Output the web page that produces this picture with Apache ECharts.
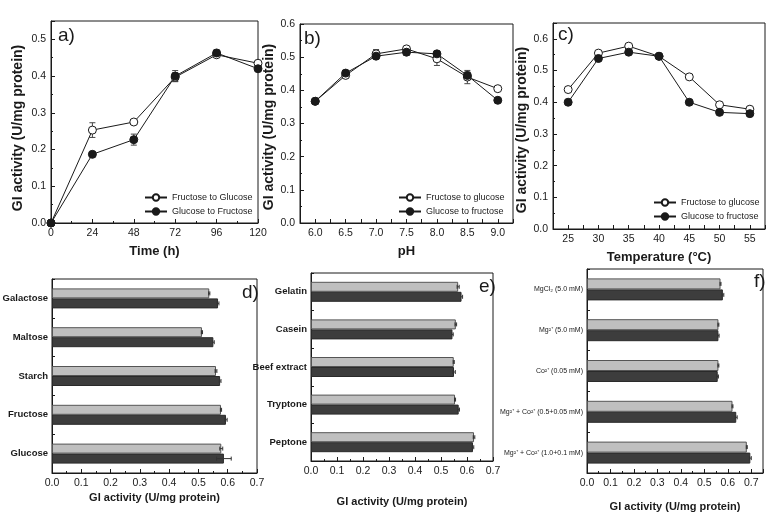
<!DOCTYPE html>
<html>
<head>
<meta charset="utf-8">
<script src="https://cdn.jsdelivr.net/npm/echarts@6/dist/echarts.min.js"></script>
<style>
  html, body { margin: 0; padding: 0; background: #fff; }
  #chart { width: 778px; height: 527px; }
</style>
</head>
<body>
<div id="chart"></div>
<script>
// a) time course
var timeX = [0, 24, 48, 72, 96, 120]
var timeFtoG = [0, 0.253, 0.275, 0.397, 0.458, 0.435]
var timeGtoF = [0, 0.187, 0.227, 0.400, 0.463, 0.420]
var timeFtoGErr = [0, 0.02, 0.006, 0.012, 0.006, 0.006]
var timeGtoFErr = [0, 0.004, 0.015, 0.015, 0.008, 0.006]

// b) pH
var phX = [6.0, 6.5, 7.0, 7.5, 8.0, 8.5, 9.0]
var phFtoG = [0.367, 0.445, 0.510, 0.525, 0.495, 0.440, 0.405]
var phGtoF = [0.367, 0.452, 0.503, 0.515, 0.510, 0.445, 0.370]
var phFtoGErr = [0.004, 0.006, 0.013, 0.006, 0.02, 0.02, 0.004]
var phGtoFErr = [0.004, 0.006, 0.008, 0.01, 0.008, 0.01, 0.004]

// c) temperature
var tempX = [25, 30, 35, 40, 45, 50, 55]
var tempFtoG = [0.440, 0.555, 0.577, 0.545, 0.480, 0.392, 0.378]
var tempGtoF = [0.400, 0.538, 0.558, 0.545, 0.400, 0.368, 0.364]

// d) carbon source (bottom to top)
var carbonCats = ['Glucose', 'Fructose', 'Starch', 'Maltose', 'Galactose']
var carbonLight = [0.578, 0.577, 0.560, 0.512, 0.537]
var carbonDark = [0.587, 0.594, 0.574, 0.551, 0.567]
var carbonLightErr = [0.005, 0.002, 0.003, 0.002, 0.002]
var carbonDarkErr = [0.025, 0.004, 0.003, 0.003, 0.003]

// e) nitrogen source (bottom to top)
var nitroCats = ['Peptone', 'Tryptone', 'Beef extract', 'Casein', 'Gelatin']
var nitroLight = [0.627, 0.554, 0.549, 0.557, 0.566]
var nitroDark = [0.623, 0.568, 0.550, 0.544, 0.579]
var nitroLightErr = [0.003, 0.002, 0.002, 0.003, 0.004]
var nitroDarkErr = [0.003, 0.003, 0.005, 0.003, 0.004]

// f) metal ions (bottom to top)
var metalCats = ['Mg²⁺ + Co²⁺ (1.0+0.1 mM)', 'Mg²⁺ + Co²⁺ (0.5+0.05 mM)', 'Co²⁺ (0.05 mM)', 'Mg²⁺ (5.0 mM)', 'MgCl₂ (5.0 mM)']
var metalLight = [0.681, 0.620, 0.560, 0.560, 0.569]
var metalDark = [0.696, 0.636, 0.557, 0.560, 0.579]
var metalLightErr = [0.002, 0.002, 0.002, 0.002, 0.002]
var metalDarkErr = [0.004, 0.004, 0.003, 0.003, 0.004]

var FONT = "'Liberation Sans', Arial, sans-serif"
var INK = '#1a1a1a'

function pairs(xs, ys) {
  return xs.map(function(x, i) { return [x, ys[i]] })
}

function errItems(xs, ys, es) {
  return xs.map(function(x, i) { return [x, ys[i], es[i]] })
}

// vertical error bars for the line panels
function lineErrors(idx, xs, ys, es) {
  return {
    type: 'custom',
    xAxisIndex: idx,
    yAxisIndex: idx,
    z: 1,
    silent: true,
    data: errItems(xs, ys, es),
    renderItem: function(params, api) {
      var lo = api.coord([api.value(0), api.value(1) - api.value(2)])
      var hi = api.coord([api.value(0), api.value(1) + api.value(2)])
      var st = { stroke: '#444', lineWidth: 1 }
      return {
        type: 'group',
        children: [
          { type: 'line', shape: { x1: lo[0], y1: lo[1], x2: hi[0], y2: hi[1] }, style: st },
          { type: 'line', shape: { x1: lo[0] - 3, y1: lo[1], x2: lo[0] + 3, y2: lo[1] }, style: st },
          { type: 'line', shape: { x1: hi[0] - 3, y1: hi[1], x2: hi[0] + 3, y2: hi[1] }, style: st }
        ]
      }
    }
  }
}

// horizontal error bars for the bar panels, shifted onto each bar
function barErrors(idx, vals, es, shift) {
  return {
    type: 'custom',
    xAxisIndex: idx,
    yAxisIndex: idx,
    z: 3,
    silent: true,
    data: vals.map(function(v, i) { return [v, i, es[i]] }),
    renderItem: function(params, api) {
      var lo = api.coord([api.value(0) - api.value(2), api.value(1)])
      var hi = api.coord([api.value(0) + api.value(2), api.value(1)])
      var y = lo[1] + shift
      var st = { stroke: '#333', lineWidth: 1 }
      return {
        type: 'group',
        children: [
          { type: 'line', shape: { x1: lo[0], y1: y, x2: hi[0], y2: y }, style: st },
          { type: 'line', shape: { x1: lo[0], y1: y - 2, x2: lo[0], y2: y + 2 }, style: st },
          { type: 'line', shape: { x1: hi[0], y1: y - 2, x2: hi[0], y2: y + 2 }, style: st }
        ]
      }
    }
  }
}

function lineSeries(idx, name, data, open) {
  return {
    type: 'line',
    name: name,
    xAxisIndex: idx,
    yAxisIndex: idx,
    data: data,
    z: 2,
    symbol: 'circle',
    symbolSize: 8,
    lineStyle: { color: INK, width: 1 },
    itemStyle: { color: open ? '#fff' : INK, borderColor: INK, borderWidth: 1 }
  }
}

function barSeries(idx, data, dark, width) {
  return {
    type: 'bar',
    xAxisIndex: idx,
    yAxisIndex: idx,
    data: data,
    barWidth: width,
    barGap: '0%',
    itemStyle: dark
      ? { color: '#3d3d3d', borderColor: '#2a2a2a', borderWidth: 1 }
      : { color: '#bfbfbf', borderColor: '#555', borderWidth: 1 }
  }
}

var axisLineStyle = { show: true, onZero: false, lineStyle: { color: INK, width: 1 } }
var tickLabel = { color: INK, fontFamily: FONT, fontSize: 10.5 }

function valueAxis(idx, pos, min, max, interval, step, digits, extra) {
  var ax = {
    type: 'value',
    gridIndex: idx,
    position: pos,
    min: min,
    max: max,
    interval: interval,
    axisLine: axisLineStyle,
    axisTick: { show: true, inside: true, length: 4, lineStyle: { color: INK } },
    splitLine: { show: false },
    axisLabel: Object.assign({
      margin: 5,
      showMaxLabel: true,
      formatter: function(v) {
        var k = v / step
        if (Math.abs(k - Math.round(k)) > 1e-6) return ''
        return v.toFixed(digits)
      }
    }, tickLabel)
  }
  return Object.assign(ax, extra || {})
}

function yTitle(shift) {
  // right padding nudges the rotated title downwards along the axis
  return { color: INK, fontFamily: FONT, fontSize: 14, fontWeight: 'bold', padding: [0, shift, 0, 0] }
}
var xTitleFont = { color: INK, fontFamily: FONT, fontSize: 13, fontWeight: 'bold' }
var barTitleFont = { color: INK, fontFamily: FONT, fontSize: 11, fontWeight: 'bold' }

var grids = [
  { left: 51, top: 21, width: 207, height: 202 },
  { left: 300, top: 24, width: 213, height: 199 },
  { left: 553, top: 23, width: 212, height: 206 },
  { left: 52, top: 279, width: 205, height: 194 },
  { left: 311, top: 273, width: 182, height: 188 },
  { left: 587, top: 269, width: 176, height: 204 }
]
grids.forEach(function(g) {
  g.show = true
  g.borderColor = INK
  g.borderWidth = 1
  g.backgroundColor = 'transparent'
  g.outerBoundsMode = 'none'
  g.containLabel = false
})

var yName = 'GI activity (U/mg protein)'
var minor = { show: true, splitNumber: 2, length: 2, lineStyle: { color: INK } }

var xAxes = [
  valueAxis(0, 'bottom', 0, 120, 24, 24, 0, { name: 'Time (h)', nameLocation: 'middle', nameGap: 22, nameTextStyle: xTitleFont, minorTick: minor }),
  valueAxis(1, 'bottom', 5.75, 9.25, 0.25, 0.5, 1, { name: 'pH', nameLocation: 'middle', nameGap: 22, nameTextStyle: xTitleFont }),
  valueAxis(2, 'bottom', 22.5, 57.5, 2.5, 5, 0, { name: 'Temperature (°C)', nameLocation: 'middle', nameGap: 22, nameTextStyle: xTitleFont }),
  valueAxis(3, 'bottom', 0, 0.7, 0.1, 0.1, 1, { name: yName, nameLocation: 'middle', nameGap: 19, nameTextStyle: barTitleFont, minorTick: minor }),
  valueAxis(4, 'bottom', 0, 0.7, 0.1, 0.1, 1, { name: yName, nameLocation: 'middle', nameGap: 35, nameTextStyle: barTitleFont, minorTick: minor }),
  valueAxis(5, 'bottom', 0, 0.75, 0.1, 0.1, 1, { name: yName, nameLocation: 'middle', nameGap: 28, nameTextStyle: barTitleFont, minorTick: minor })
]

function catAxis(idx, cats, size, weight) {
  return {
    type: 'category',
    gridIndex: idx,
    data: cats,
    axisLine: axisLineStyle,
    axisTick: { show: true, inside: true, length: 3, lineStyle: { color: INK } },
    axisLabel: { color: INK, fontFamily: FONT, fontSize: size, fontWeight: weight, margin: 4 }
  }
}

var yAxes = [
  valueAxis(0, 'left', 0, 0.55, 0.1, 0.1, 1, { name: yName, nameLocation: 'middle', nameGap: 26, nameTextStyle: yTitle(12), minorTick: minor }),
  valueAxis(1, 'left', 0, 0.6, 0.1, 0.1, 1, { name: yName, nameLocation: 'middle', nameGap: 23, nameTextStyle: yTitle(7), minorTick: minor }),
  valueAxis(2, 'left', 0, 0.65, 0.1, 0.1, 1, { name: yName, nameLocation: 'middle', nameGap: 21, nameTextStyle: yTitle(8), minorTick: minor }),
  catAxis(3, carbonCats, 9.5, 'bold'),
  catAxis(4, nitroCats, 9.5, 'bold'),
  catAxis(5, metalCats, 7, 'normal')
]

var legendText = { color: INK, fontFamily: FONT, fontSize: 9 }
function legendAt(left, top, names) {
  return {
    orient: 'vertical',
    left: left,
    top: top,
    itemWidth: 22,
    itemHeight: 8,
    itemGap: 5,
    padding: 0,
    textStyle: legendText,
    data: names
  }
}

var series = [
  lineErrors(0, timeX, timeFtoG, timeFtoGErr),
  lineErrors(0, timeX, timeGtoF, timeGtoFErr),
  lineSeries(0, 'Fructose to Glucose', pairs(timeX, timeFtoG), true),
  lineSeries(0, 'Glucose to Fructose', pairs(timeX, timeGtoF), false),
  lineErrors(1, phX, phFtoG, phFtoGErr),
  lineErrors(1, phX, phGtoF, phGtoFErr),
  lineSeries(1, 'Fructose to glucose', pairs(phX, phFtoG), true),
  lineSeries(1, 'Glucose to fructose', pairs(phX, phGtoF), false),
  lineSeries(2, 'Fructose to glucose', pairs(tempX, tempFtoG), true),
  lineSeries(2, 'Glucose to fructose', pairs(tempX, tempGtoF), false),
  barSeries(3, carbonLight, false, 10),
  barSeries(3, carbonDark, true, 10),
  barErrors(3, carbonLight, carbonLightErr, -5),
  barErrors(3, carbonDark, carbonDarkErr, 5),
  barSeries(4, nitroLight, false, 10),
  barSeries(4, nitroDark, true, 10),
  barErrors(4, nitroLight, nitroLightErr, -5),
  barErrors(4, nitroDark, nitroDarkErr, 5),
  barSeries(5, metalLight, false, 11),
  barSeries(5, metalDark, true, 11),
  barErrors(5, metalLight, metalLightErr, -5.5),
  barErrors(5, metalDark, metalDarkErr, 5.5)
]

var panelFont = { fill: INK, fontFamily: FONT, fontSize: 19 }
function panelLabel(text, x, y) {
  return { type: 'text', left: x, top: y, style: Object.assign({ text: text }, panelFont) }
}

var chart = echarts.init(document.getElementById('chart'), null, { renderer: 'canvas' })
chart.setOption({
  animation: false,
  backgroundColor: '#fff',
  grid: grids,
  xAxis: xAxes,
  yAxis: yAxes,
  legend: [
    legendAt(144, 193, ['Fructose to Glucose', 'Glucose to Fructose']),
    legendAt(398, 193, ['Fructose to glucose', 'Glucose to fructose']),
    legendAt(653, 198, ['Fructose to glucose', 'Glucose to fructose'])
  ],
  graphic: [
    panelLabel('a)', 58, 26),
    panelLabel('b)', 304, 29),
    panelLabel('c)', 558, 25),
    panelLabel('d)', 242, 283),
    panelLabel('e)', 479, 277),
    panelLabel('f)', 754, 272)
  ],
  series: series
})
</script>
</body>
</html>
